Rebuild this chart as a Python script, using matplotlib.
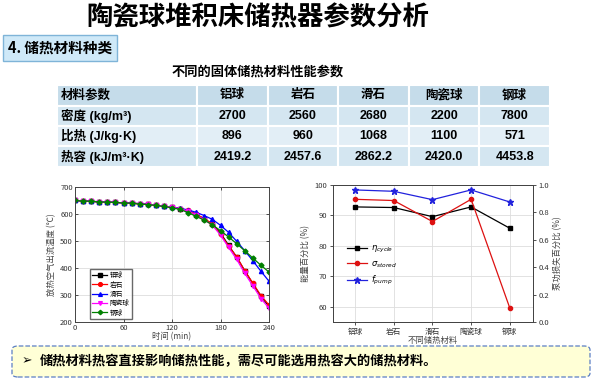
import matplotlib.pyplot as plt
from matplotlib.patches import FancyBboxPatch

plt.rcParams['font.family'] = ['Noto Sans CJK SC', 'DejaVu Sans']
plt.rcParams['axes.unicode_minus'] = False

# ---- données ----
materials = ['铝球', '岩石', '滑石', '陶瓷球', '钢球']
row_labels = ['密度 (kg/m³)', '比热 (J/kg·K)', '热容 (kJ/m³·K)']
density = ['2700', '2560', '2680', '2200', '7800']
spec_heat = ['896', '960', '1068', '1100', '571']
heat_cap = ['2419.2', '2457.6', '2862.2', '2420.0', '4453.8']

time_min = [0, 10, 20, 30, 40, 50, 60, 70, 80, 90, 100, 110, 120,
            130, 140, 150, 160, 170, 180, 190, 200, 210, 220, 230, 240]
temp_al = [650, 648, 647, 645, 644, 643, 641, 640, 638, 636, 633, 629, 625,
           620, 612, 598, 582, 562, 530, 484, 440, 390, 342, 295, 258]
temp_rock = [650, 648, 647, 645, 644, 643, 641, 640, 638, 636, 633, 629, 625,
             620, 613, 599, 583, 563, 526, 481, 442, 390, 344, 298, 263]
temp_talc = [650, 648, 647, 645, 644, 643, 641, 640, 638, 636, 633, 629, 625,
             621, 615, 606, 594, 580, 558, 532, 499, 464, 427, 388, 351]
temp_cer = [650, 648, 647, 645, 644, 643, 641, 640, 638, 636, 633, 629, 625,
            620, 611, 596, 579, 558, 522, 476, 432, 380, 334, 287, 251]
temp_steel = [650, 648, 647, 645, 644, 643, 641, 640, 637, 635, 632, 628, 623,
              617, 605, 591, 577, 560, 538, 515, 490, 464, 437, 410, 385]

eta_cycle = [92.8, 92.6, 89.6, 92.8, 85.8]
sigma_stored = [95.3, 94.9, 88.0, 95.3, 59.6]
f_pump = [0.964, 0.954, 0.893, 0.964, 0.876]

W, H = 600, 382
latin = ['Liberation Sans', 'Noto Sans CJK SC']


def fx(x):
    return x / W


def fy(y):
    return 1 - y / H


fig = plt.figure(figsize=(6, 3.82), dpi=100)
fig.patch.set_facecolor('white')

# ---- titres ----
fig.text(fx(258), fy(18), '陶瓷球堆积床储热器参数分析', fontsize=19, fontweight='bold',
         ha='center', va='center', color='black')
fig.text(fx(8), fy(48), '4. 储热材料种类', fontsize=10.5, fontweight='bold',
         ha='left', va='center', color='black',
         bbox=dict(boxstyle='square,pad=0.35', fc='#cfe9f8', ec='#7fb4d8', lw=1))
fig.text(fx(258), fy(72), '不同的固体储热材料性能参数', fontsize=9.5, fontweight='bold',
         ha='center', va='center', color='black')

# ---- tableau ----
tab_ax = fig.add_axes([fx(57), fy(167), fx(550 - 57), (167 - 85) / H])
tab_ax.axis('off')
cell_text = [['材料参数'] + materials,
             [row_labels[0]] + density,
             [row_labels[1]] + spec_heat,
             [row_labels[2]] + heat_cap]
row_colors = ['#c5dcea', '#d4e6f1', '#e2eef6', '#d4e6f1']
colours = [[c] * 6 for c in row_colors]
col_w = [140 / 493] + [70.6 / 493] * 5
tbl = tab_ax.table(cellText=cell_text, cellColours=colours, colWidths=col_w,
                   bbox=[0, 0, 1, 1], cellLoc='center')
tbl.auto_set_font_size(False)
for (r, c), cell in tbl.get_celld().items():
    cell.set_edgecolor('white')
    cell.set_linewidth(1.5)
    txt = cell.get_text()
    txt.set_fontsize(9)
    txt.set_fontweight('bold')
    txt.set_family(latin)
    if c == 0:
        txt.set_ha('left')
        cell.PAD = 0.03

# ---- graphique gauche ----
ax1 = fig.add_axes([fx(75), fy(322), fx(269 - 75), (322 - 187) / H])
ax1.plot(time_min, temp_al, color='black', marker='s', ms=3, lw=0.9, label='铝球')
ax1.plot(time_min, temp_rock, color='red', marker='o', ms=3, lw=0.9, label='岩石')
ax1.plot(time_min, temp_talc, color='blue', marker='^', ms=3, lw=0.9, label='滑石')
ax1.plot(time_min, temp_cer, color='magenta', marker='v', ms=3, lw=0.9, label='陶瓷球')
ax1.plot(time_min, temp_steel, color='green', marker='D', ms=2.5, lw=0.9, label='钢球')
ax1.set_xlim(0, 240)
ax1.set_ylim(200, 700)
ax1.set_xticks([0, 60, 120, 180, 240])
ax1.set_yticks([200, 300, 400, 500, 600, 700])
ax1.grid(True, color='#dddddd', lw=0.6)
ax1.tick_params(labelsize=5.5, direction='in', length=2.5, width=0.6, pad=1.5,
                top=True, right=True, colors='#333333')
for s in ax1.spines.values():
    s.set_linewidth(0.7)
    s.set_color('#444444')
ax1.set_xlabel('时间 (min)', fontsize=6, labelpad=0, color='#444444')
ax1.set_ylabel('放热空气出流温度 (℃)', fontsize=6, labelpad=3, color='#444444')
ax1.legend(loc='lower left', bbox_to_anchor=(0.06, 0.0), fontsize=4.8, frameon=True,
           fancybox=False, edgecolor='#444444', handlelength=2.3, labelspacing=0.2,
           borderpad=0.3, handletextpad=0.4, markerscale=0.9)

# ---- graphique droite ----
pos = [1, 2, 3, 4, 5]
ax2 = fig.add_axes([fx(333), fy(322), fx(533 - 333), (322 - 185) / H])
l1, = ax2.plot(pos, eta_cycle, color='black', marker='s', ms=3, lw=0.9,
               label=r'$\eta_{cycle}$')
l2, = ax2.plot(pos, sigma_stored, color='#dd1111', marker='o', ms=3, lw=0.9,
               label=r'$\sigma_{stored}$')
ax2.set_xlim(0.43, 5.6)
ax2.set_ylim(55, 100)
ax2.set_yticks([60, 70, 80, 90, 100])
ax2.set_xticks(pos)
ax2.set_xticklabels(materials)
ax2.grid(True, color='#dddddd', lw=0.6)
ax2.tick_params(labelsize=5.5, direction='out', length=2.5, width=0.6, pad=1.5,
                colors='#333333')
ax2.set_xlabel('不同储热材料', fontsize=6, labelpad=0, color='#444444')
ax2.set_ylabel('能量百分比 (%)', fontsize=6, labelpad=3, color='#444444')
for s in ax2.spines.values():
    s.set_linewidth(0.7)
    s.set_color('#444444')

ax3 = ax2.twinx()
l3, = ax3.plot(pos, f_pump, color='#2222dd', marker='*', ms=4.5, lw=0.9,
               label=r'$f_{pump}$')
ax3.set_ylim(0, 1.0)
ax3.set_yticks([0.0, 0.2, 0.4, 0.6, 0.8, 1.0])
ax3.tick_params(labelsize=5.5, direction='out', length=2.5, width=0.6, pad=1.5,
                colors='#333333')
ax3.set_ylabel('泵功损失百分比 (%)', fontsize=6, labelpad=3, color='#444444')
for s in ax3.spines.values():
    s.set_linewidth(0.7)
    s.set_color('#444444')
ax2.legend(handles=[l1, l2, l3], loc='lower left', bbox_to_anchor=(0.03, 0.2),
           fontsize=6, frameon=False, handlelength=2.5, labelspacing=0.5,
           handletextpad=0.4)

# ---- encadré du bas ----
box = FancyBboxPatch((fx(12), fy(377)), fx(590 - 12), (377 - 346) / H,
                     boxstyle='round,pad=0,rounding_size=0.01',
                     transform=fig.transFigure, fc='#ffffd6', ec='#5b7fc4',
                     lw=0.9, ls='--')
fig.patches.append(box)
fig.text(fx(22), fy(361), '➢', fontsize=9, fontweight='bold', family='DejaVu Sans',
         ha='left', va='center', color='black')
fig.text(fx(40), fy(361), '储热材料热容直接影响储热性能，需尽可能选用热容大的储热材料。',
         fontsize=9.5, fontweight='bold', ha='left', va='center', color='black')

fig.savefig('out.png', dpi=100)
